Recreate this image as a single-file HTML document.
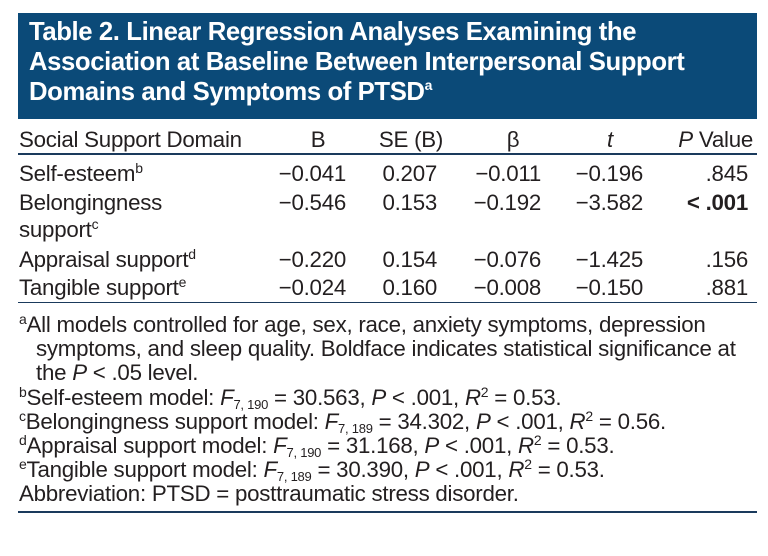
<!DOCTYPE html>
<html><head><meta charset="utf-8"><style>
body{margin:0;width:768px;height:556px;background:#fff;position:relative;font-family:"Liberation Sans",sans-serif;color:#231f20;overflow:hidden}
.t{position:absolute;white-space:nowrap;font-size:22.3px;letter-spacing:-0.25px;line-height:1}
.r{text-align:right}
.c{text-align:center}
sup{font-size:14px;vertical-align:8px;line-height:0}
sub{font-size:13px;vertical-align:-4px;line-height:0}
.rule{position:absolute;left:18px;width:739px;background:#1a3a5c}
</style></head><body>
<div style="position:absolute;left:18px;top:13px;width:739px;height:106px;background:#0b4a78;"></div>
<div style="position:absolute;left:29px;top:17px;color:#fff;font-size:25.7px;font-weight:bold;line-height:30px;letter-spacing:-0.4px;white-space:nowrap">Table 2. Linear Regression Analyses Examining the<br>Association at Baseline Between Interpersonal Support<br>Domains and Symptoms of PTSD<sup style="font-size:14px;vertical-align:10px">a</sup></div>

<div class="t" style="left:19px;top:129px">Social Support Domain</div>
<div class="t c" style="left:290px;width:56px;top:129px">B</div>
<div class="t c" style="left:375px;width:72px;top:129px">SE (B)</div>
<div class="t c" style="left:485px;width:56px;top:129px">β</div>
<div class="t c" style="left:582px;width:56px;top:129px"><i>t</i></div>
<div class="t r" style="left:650px;width:103px;top:129px"><i>P</i> Value</div>
<div class="rule" style="top:153px;height:2px"></div>

<div>
<div class="t" style="left:19px;top:163px">Self-esteem<sup>b</sup></div>
<div class="t r" style="left:250px;width:96px;top:163px">−0.041</div>
<div class="t r" style="left:360px;width:77px;top:163px">0.207</div>
<div class="t r" style="left:450px;width:91px;top:163px">−0.011</div>
<div class="t r" style="left:550px;width:93px;top:163px">−0.196</div>
<div class="t r" style="left:670px;width:78px;top:163px">.845</div>

<div class="t" style="left:19px;top:192px">Belongingness</div>
<div class="t" style="left:19px;top:219px">support<sup>c</sup></div>
<div class="t r" style="left:250px;width:96px;top:192px">−0.546</div>
<div class="t r" style="left:360px;width:77px;top:192px">0.153</div>
<div class="t r" style="left:450px;width:91px;top:192px">−0.192</div>
<div class="t r" style="left:550px;width:93px;top:192px">−3.582</div>
<div class="t r" style="left:650px;width:98px;top:192px;font-weight:bold">&lt; .001</div>

<div class="t" style="left:19px;top:249px">Appraisal support<sup>d</sup></div>
<div class="t r" style="left:250px;width:96px;top:249px">−0.220</div>
<div class="t r" style="left:360px;width:77px;top:249px">0.154</div>
<div class="t r" style="left:450px;width:91px;top:249px">−0.076</div>
<div class="t r" style="left:550px;width:93px;top:249px">−1.425</div>
<div class="t r" style="left:670px;width:78px;top:249px">.156</div>

<div class="t" style="left:19px;top:277px">Tangible support<sup>e</sup></div>
<div class="t r" style="left:250px;width:96px;top:277px">−0.024</div>
<div class="t r" style="left:360px;width:77px;top:277px">0.160</div>
<div class="t r" style="left:450px;width:91px;top:277px">−0.008</div>
<div class="t r" style="left:550px;width:93px;top:277px">−0.150</div>
<div class="t r" style="left:670px;width:78px;top:277px">.881</div>
</div>
<div class="rule" style="top:302px;height:1px"></div>

<div>
<div class="t" style="left:19px;top:314px"><sup>a</sup>All models controlled for age, sex, race, anxiety symptoms, depression</div>
<div class="t" style="left:36px;top:338px">symptoms, and sleep quality. Boldface indicates statistical significance at</div>
<div class="t" style="left:36px;top:362px">the <i>P</i> &lt; .05 level.</div>
<div class="t" style="left:19px;top:387px"><sup>b</sup>Self-esteem model: <i>F</i><sub>7, 190</sub> = 30.563, <i>P</i> &lt; .001, <i>R</i><sup>2</sup> = 0.53.</div>
<div class="t" style="left:19px;top:411px"><sup>c</sup>Belongingness support model: <i>F</i><sub>7, 189</sub> = 34.302, <i>P</i> &lt; .001, <i>R</i><sup>2</sup> = 0.56.</div>
<div class="t" style="left:19px;top:435px"><sup>d</sup>Appraisal support model: <i>F</i><sub>7, 190</sub> = 31.168, <i>P</i> &lt; .001, <i>R</i><sup>2</sup> = 0.53.</div>
<div class="t" style="left:19px;top:459px"><sup>e</sup>Tangible support model: <i>F</i><sub>7, 189</sub> = 30.390, <i>P</i> &lt; .001, <i>R</i><sup>2</sup> = 0.53.</div>
<div class="t" style="left:19px;top:483px">Abbreviation: PTSD = posttraumatic stress disorder.</div>
</div>
<div class="rule" style="top:511px;height:2px"></div>
</body></html>
